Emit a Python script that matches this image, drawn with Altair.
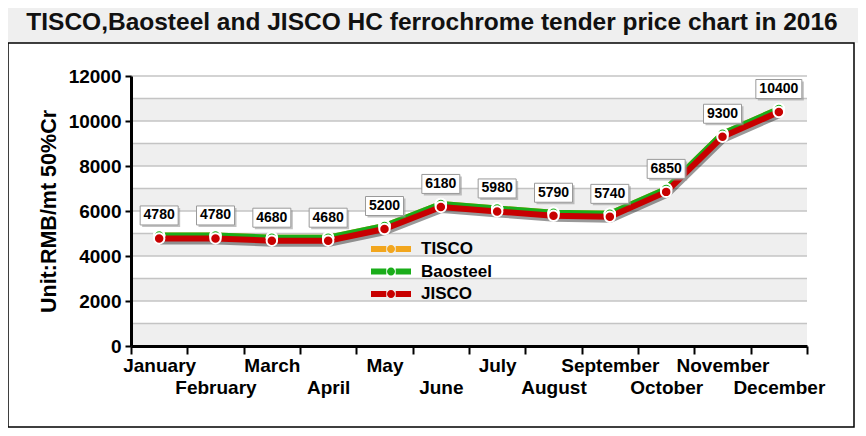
import altair as alt
import pandas as pd

months = ["January", "February", "March", "April", "May", "June", "July",
          "August", "September", "October", "November", "December"]
tisco = [4780, 4780, 4680, 4680, 5200, 6180, 5980, 5790, 5740, 6850, 9300, 10400]
baosteel = [4780, 4780, 4680, 4680, 5200, 6180, 5980, 5790, 5740, 6850, 9300, 10400]
jisco = [4780, 4780, 4680, 4680, 5200, 6180, 5980, 5790, 5740, 6850, 9300, 10400]
series_names = ["TISCO", "Baosteel", "JISCO"]
series_colors = ["#f2a61e", "#1aad1a", "#c80000"]
y_ticks = [0, 2000, 4000, 6000, 8000, 10000, 12000]
grid_lines = [1000, 2000, 3000, 4000, 5000, 6000, 7000, 8000, 9000, 10000, 11000, 12000]
band_starts = [0, 2000, 4000, 6000, 8000, 10000]
title_text = "TISCO,Baosteel and JISCO HC ferrochrome tender price chart in 2016"
y_title = "Unit:RMB/mt 50%Cr"

W, H = 676, 270
FONT = "Liberation Sans"

rows = []
for name, vals in zip(series_names, [tisco, baosteel, jisco]):
    for m, v in zip(months, vals):
        rows.append({"month": m, "value": v, "series": name})
df = pd.DataFrame(rows)
label_df = pd.DataFrame({"month": months, "value": jisco})
band_df = pd.DataFrame({"y0": band_starts, "y1": [b + 1000 for b in band_starts]})
grid_df = pd.DataFrame({"g": grid_lines})
one = pd.DataFrame({"a": [0]})

odd_months = months[1::2]
label_expr = ("indexof([" + ",".join("'%s'" % m for m in odd_months) +
              "], datum.value) >= 0 ? ['', datum.label] : datum.label")

xscale = alt.Scale(domain=months, paddingInner=0, paddingOuter=0)
yscale = alt.Scale(domain=[0, 12000], nice=False)

x_enc = alt.X("month:N", scale=xscale, sort=months, title=None,
              axis=alt.Axis(labelAngle=0, tickBand="extent", tickSize=8, tickWidth=2,
                            tickColor="black", domainColor="black", domainWidth=3,
                            labelFont=FONT, labelFontSize=19, labelFontWeight="bold",
                            labelColor="black", labelPadding=2, labelLineHeight=22,
                            labelBaseline="top", labelExpr=label_expr, grid=False,
                            zindex=1, labelOverlap=False))
y_enc = alt.Y("value:Q", scale=yscale, title=y_title,
              axis=alt.Axis(values=y_ticks, format="d", tickSize=6, tickWidth=2,
                            tickColor="black", domainColor="black", domainWidth=3,
                            grid=False, labelFont=FONT, labelFontSize=19,
                            labelFontWeight="bold", labelColor="black", labelPadding=4,
                            titleFont=FONT, titleFontSize=21.5, titleFontWeight="bold",
                            titleColor="black", titlePadding=8, zindex=1))

fill_scale = alt.Scale(domain=series_names, range=series_colors)

legend_path = ("M-2,-0.3H-0.47V0.3H-2Z M0.47,-0.3H2V0.3H0.47Z "
               "M-0.4,0A0.4,0.4 0 1,0 0.4,0A0.4,0.4 0 1,0 -0.4,0Z")
legend = alt.Legend(orient="none", legendX=250, legendY=163, title=None,
                    symbolType=legend_path, symbolSize=400, symbolStrokeWidth=0,
                    labelFont=FONT, labelFontSize=17, labelFontWeight="bold",
                    labelColor="black", labelOffset=20, rowPadding=4.5, padding=0)

title_bar = alt.Chart(one).mark_rect(fill="#efefef").encode(
    x=alt.value(-123), x2=alt.value(W + 51), y=alt.value(-68), y2=alt.value(-33))
title_mark = alt.Chart(one).mark_text(
    text=title_text, font=FONT, fontSize=24.5, fontWeight="bold", color="#111111",
    align="center", baseline="middle").encode(x=alt.value(301), y=alt.value(-53))
frame = alt.Chart(one).mark_rect(fillOpacity=0, stroke="black", strokeWidth=1.5).encode(
    x=alt.value(-123), x2=alt.value(723), y=alt.value(-33), y2=alt.value(351))

bands = alt.Chart(band_df).mark_rect(fill="#efefef").encode(
    x=alt.value(0), x2=alt.value(W),
    y=alt.Y("y0:Q", scale=yscale), y2="y1:Q")
grid = alt.Chart(grid_df).mark_rule(color="#c4c4c4", strokeWidth=1.5).encode(
    x=alt.value(0), x2=alt.value(W), y=alt.Y("g:Q", scale=yscale))

base = alt.Chart(df)
shadow = base.transform_filter("datum.series == 'JISCO'").mark_line(
    strokeWidth=6, color="black", opacity=0.4, strokeJoin="round",
    xOffset=1, yOffset=3).encode(x=x_enc, y=y_enc)

line_layers = []
point_layers = []
offsets = {"TISCO": -3, "Baosteel": -3, "JISCO": 0}
for name, col in zip(series_names, series_colors):
    sub = base.transform_filter("datum.series == '%s'" % name)
    line_layers.append(sub.mark_line(strokeWidth=6, color=col, strokeJoin="round",
                                     yOffset=offsets[name]).encode(x=x_enc, y=y_enc))
    point_layers.append(sub.mark_circle(size=110, stroke="white", strokeWidth=2, opacity=1,
                                        yOffset=offsets[name]).encode(
        x=x_enc, y=y_enc, fill=alt.Fill("series:N", scale=fill_scale, legend=legend)))

lab = alt.Chart(label_df).transform_calculate(
    hw="(length(format(datum.value, 'd')) * 8 + 6) / 19"
).transform_calculate(
    boxpath="'M' + (-datum.hw) + ',-1H' + datum.hw + 'V1H' + (-datum.hw) + 'Z'")
box_shadow = lab.mark_point(filled=True, fill="#9a9a9a", opacity=0.6, strokeWidth=0,
                            xOffset=2, yOffset=-21).encode(
    x=x_enc, y=y_enc, shape=alt.Shape("boxpath:N", scale=None, legend=None),
    size=alt.value(361))
box = lab.mark_point(filled=True, fill="white", stroke="#9a9a9a", strokeWidth=1,
                     opacity=1, yOffset=-23).encode(
    x=x_enc, y=y_enc, shape=alt.Shape("boxpath:N", scale=None, legend=None),
    size=alt.value(361))
text = lab.mark_text(font=FONT, fontSize=14, fontWeight="bold", color="black",
                     baseline="middle", yOffset=-23).encode(
    x=x_enc, y=y_enc, text=alt.Text("value:Q", format="d"))

chart = alt.layer(
    title_bar, title_mark, frame, bands, grid, shadow,
    *line_layers, *point_layers, box_shadow, box, text
).properties(
    width=W, height=H,
    autosize=alt.AutoSizeParams(type="none"),
    padding={"left": 123, "top": 68, "right": 51, "bottom": 82},
    background="white",
).configure_view(strokeWidth=0)

chart.save("out.html", embed_options={"renderer": "svg", "actions": False})
